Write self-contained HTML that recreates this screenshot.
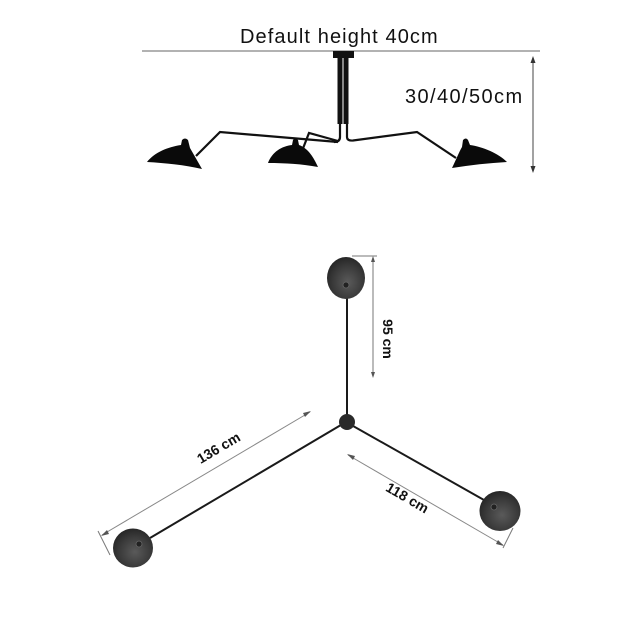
<!DOCTYPE html>
<html><head><meta charset="utf-8"><style>
html,body{margin:0;padding:0;background:#fff;}
svg{display:block;}
</style></head><body>
<svg width="640" height="640" viewBox="0 0 640 640" xmlns="http://www.w3.org/2000/svg">
<defs>
<radialGradient id="ball" cx="0.55" cy="0.6" r="0.65">
<stop offset="0" stop-color="#5a5a5a"/>
<stop offset="0.6" stop-color="#3a3a3a"/>
<stop offset="1" stop-color="#222"/>
</radialGradient>
</defs>
<rect width="640" height="640" fill="#fff"/>
<!-- top text -->
<text x="240" y="43" font-family="Liberation Sans, sans-serif" font-size="20" letter-spacing="1.1" fill="#111">Default height 40cm</text>
<line x1="142" y1="51" x2="540" y2="51" stroke="#666" stroke-width="1"/>
<!-- canopy + stem -->
<rect x="333" y="51" width="21" height="7" fill="#111"/>
<rect x="337.5" y="58" width="5" height="66" fill="#111"/>
<rect x="343.5" y="58" width="5" height="66" fill="#111"/>
<path d="M340,122 L340,137 Q340,142 334,142" stroke="#111" stroke-width="2.2" fill="none"/>
<path d="M347,122 L347,137 Q347,141 353,140.5 L417,132 L456,158" stroke="#111" stroke-width="2.2" fill="none"/>
<!-- arms -->
<polyline points="196,156 220,132 338,142" stroke="#111" stroke-width="2.2" fill="none"/>
<polyline points="302,151 309,133 338,141" stroke="#111" stroke-width="2.2" fill="none"/>
<!-- shades -->
<path d="M147,162 C155,152 168,147 181,145 L182,140 Q185,137 188,140 L190,148 C194,155 198,162 202,169 C185,165 165,163 147,162 Z" fill="#0a0a0a"/>
<path d="M268,163 C272,152 282,146 292,145 L293,140 Q295,137 298,140 L299,145 C308,148 314,158 318,167 C302,164 285,163 268,163 Z" fill="#0a0a0a"/>
<path d="M452,168 C456,160 459,152 462,147 L463,140 Q466,137 468,140 L470,145 C483,147 498,153 507,162 C489,163 470,165 452,168 Z" fill="#0a0a0a"/>
<!-- right height arrow -->
<line x1="533" y1="59" x2="533" y2="170" stroke="#444" stroke-width="1"/>
<polygon points="533,56 530.5,63 535.5,63" fill="#333"/>
<polygon points="533,173 530.5,166 535.5,166" fill="#333"/>
<text x="405" y="103" font-family="Liberation Sans, sans-serif" font-size="20" letter-spacing="1.4" fill="#111">30/40/50cm</text>

<!-- bottom plan -->
<line x1="347" y1="298" x2="347" y2="422" stroke="#1a1a1a" stroke-width="2"/>
<line x1="346" y1="422" x2="150" y2="538" stroke="#1a1a1a" stroke-width="2"/>
<line x1="346" y1="422" x2="484" y2="500" stroke="#1a1a1a" stroke-width="2"/>
<circle cx="347" cy="422" r="8" fill="#2a2a2a"/>
<ellipse cx="346" cy="278" rx="19" ry="21" fill="url(#ball)"/>
<circle cx="346" cy="285" r="3" fill="#222" stroke="#666" stroke-width="0.8"/>
<ellipse cx="133" cy="548" rx="20" ry="19.5" fill="url(#ball)"/>
<circle cx="139" cy="544" r="3" fill="#222" stroke="#666" stroke-width="0.8"/>
<ellipse cx="500" cy="511" rx="20.5" ry="20" fill="url(#ball)"/>
<circle cx="494" cy="507" r="3" fill="#222" stroke="#666" stroke-width="0.8"/>

<!-- 95 cm dimension -->
<line x1="352" y1="256" x2="377" y2="256" stroke="#777" stroke-width="1"/>
<line x1="373" y1="259" x2="373" y2="375" stroke="#777" stroke-width="1"/>
<polygon points="373,256 371,262 375,262" fill="#555"/>
<polygon points="373,378 371,372 375,372" fill="#555"/>
<text transform="translate(383,339) rotate(90)" text-anchor="middle" font-family="Liberation Sans, sans-serif" font-size="14" font-weight="bold" fill="#111">95 cm</text>

<!-- 136 cm dimension -->
<line x1="102" y1="535" x2="310" y2="412" stroke="#888" stroke-width="1"/>
<line x1="98" y1="531" x2="110" y2="555" stroke="#777" stroke-width="1"/>
<polygon points="101,536 107,530 109,534" fill="#555"/>
<polygon points="311,411 305,417 303,413" fill="#555"/>
<text transform="translate(221,452) rotate(-30.6)" text-anchor="middle" font-family="Liberation Sans, sans-serif" font-size="14" font-weight="bold" fill="#111">136 cm</text>

<!-- 118 cm dimension -->
<line x1="348" y1="455" x2="503" y2="545" stroke="#888" stroke-width="1"/>
<line x1="513" y1="528" x2="503" y2="548" stroke="#777" stroke-width="1"/>
<polygon points="347,454 355,456 353,460" fill="#555"/>
<polygon points="504,546 496,544 498,540" fill="#555"/>
<text transform="translate(405,502) rotate(30.2)" text-anchor="middle" font-family="Liberation Sans, sans-serif" font-size="14" font-weight="bold" fill="#111">118 cm</text>
</svg>
</body></html>
